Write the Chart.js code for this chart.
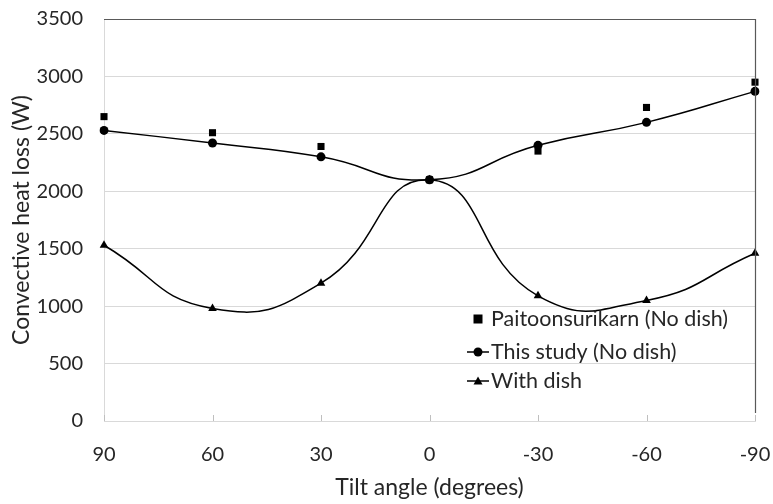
<!DOCTYPE html>
<html>
<head>
<meta charset="utf-8">
<script src="https://cdn.jsdelivr.net/npm/chart.js@4.4.1/dist/chart.umd.min.js"></script>
<style>
html,body{margin:0;padding:0;background:#fff;}
#wrap{width:773px;height:504px;position:relative;}
</style>
</head>
<body>
<div id="wrap"><canvas id="c" width="773" height="504"></canvas></div>
<script>
const categories = ['90', '60', '30', '0', '-30', '-60', '-90'];
const paitoonsurikarn = [2650, 2510, 2390, 2100, 2350, 2730, 2950];
const thisStudy = [2530, 2420, 2300, 2100, 2400, 2600, 2870];
const withDish = [1530, 980, 1200, 2100, 1090, 1050, 1460];
const yTicks = { min: 0, max: 3500, step: 500 };
const seriesNames = ['Paitoonsurikarn (No dish)', 'This study (No dish)', 'With dish'];
const xTitle = 'Tilt angle (degrees)';
const yTitle = 'Convective heat loss (W)';

const FONT = 'Lato, "Open Sans", sans-serif';
const TXT = '#262626';

const framePlugin = {
  id: 'frame',
  afterDatasetsDraw(chart) {
    const {ctx, chartArea: a, scales} = chart;
    ctx.save();
    ctx.strokeStyle = '#595959';
    ctx.lineWidth = 1.2;
    ctx.beginPath();
    ctx.moveTo(a.left, a.top + 0.5);
    ctx.lineTo(a.right, a.top + 0.5);
    ctx.moveTo(a.right + 0.5, a.top);
    ctx.lineTo(a.right + 0.5, a.bottom - 8);
    ctx.stroke();
    ctx.strokeStyle = '#bfbfbf';
    ctx.lineWidth = 1;
    ctx.beginPath();
    categories.forEach((c, i) => {
      const x = Math.round(scales.x.getPixelForValue(i)) + 0.5;
      ctx.moveTo(x, a.bottom);
      ctx.lineTo(x, a.bottom - 6);
    });
    ctx.stroke();
    ctx.restore();
  },
  afterDraw(chart) {
    const {ctx} = chart;
    ctx.save();
    ctx.font = '21.5px ' + FONT;
    ctx.textBaseline = 'middle';
    const lx = 478, tx = 491;
    const rows = [319, 352, 381];
    ctx.fillStyle = '#000';
    ctx.fillRect(lx - 4.5, rows[0] - 4.5, 9, 9);
    ctx.strokeStyle = '#000';
    ctx.lineWidth = 1.5;
    ctx.beginPath(); ctx.moveTo(467, rows[1]); ctx.lineTo(489, rows[1]); ctx.stroke();
    ctx.beginPath(); ctx.arc(lx, rows[1], 4.5, 0, Math.PI * 2); ctx.fill();
    ctx.beginPath(); ctx.moveTo(467, rows[2]); ctx.lineTo(489, rows[2]); ctx.stroke();
    ctx.beginPath(); ctx.moveTo(lx, rows[2] - 4.5); ctx.lineTo(lx + 4.5, rows[2] + 3.5); ctx.lineTo(lx - 4.5, rows[2] + 3.5); ctx.closePath(); ctx.fill();
    ctx.fillStyle = TXT;
    seriesNames.forEach((n, i) => ctx.fillText(n, tx, rows[i]));
    ctx.restore();
  }
};

new Chart(document.getElementById('c'), {
  type: 'line',
  data: {
    labels: categories,
    datasets: [
      { label: seriesNames[0], data: paitoonsurikarn, showLine: false, pointStyle: 'rect', pointRadius: 5, backgroundColor: '#000', borderColor: '#000', borderWidth: 0, order: 0 },
      { label: seriesNames[1], data: thisStudy, pointStyle: 'circle', pointRadius: 4.5, backgroundColor: '#000', borderColor: '#000', borderWidth: 1.5, pointBorderWidth: 0, tension: 0.5, order: 1 },
      { label: seriesNames[2], data: withDish, pointStyle: 'triangle', pointRadius: 5, backgroundColor: '#000', borderColor: '#000', borderWidth: 1.5, pointBorderWidth: 0, tension: 0.5, order: 2 }
    ]
  },
  options: {
    responsive: false,
    animation: false,
    layout: { padding: { top: 19, right: 18, left: 0, bottom: 0 } },
    plugins: { legend: { display: false }, tooltip: { enabled: false } },
    scales: {
      x: {
        type: 'category',
        offset: false,
        grid: { drawOnChartArea: false, drawTicks: false },
        border: { color: '#d9d9d9', width: 1 },
        ticks: { color: TXT, font: { family: FONT, size: 20 }, padding: 22, maxRotation: 0 },
        title: { display: true, text: xTitle, color: TXT, font: { family: FONT, size: 23 }, padding: { top: 0, bottom: 3 } },
        afterFit(s) { s.height = 83; s.paddingLeft = 0; s.paddingRight = 0; }
      },
      y: {
        min: yTicks.min, max: yTicks.max,
        ticks: { stepSize: yTicks.step, color: TXT, font: { family: FONT, size: 20 }, padding: 21, callback: v => String(v) },
        grid: { color: '#d9d9d9', drawTicks: false },
        border: { color: '#d9d9d9', width: 1 },
        title: { display: true, text: yTitle, color: TXT, font: { family: FONT, size: 23 }, padding: { top: 8, bottom: 0 } },
        afterFit(s) { s.width = 104; s.paddingTop = 0; s.paddingBottom = 0; }
      }
    }
  },
  plugins: [framePlugin]
});
</script>
</body>
</html>
